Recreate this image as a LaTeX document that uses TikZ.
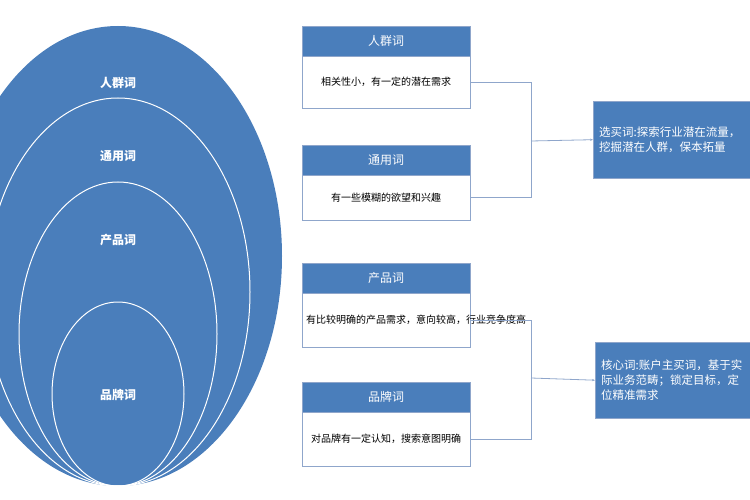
\documentclass[tikz,border=0pt]{standalone}
\usepackage{fontspec}
\setmainfont{Noto Sans CJK SC}
\usetikzlibrary{arrows.meta}
\definecolor{bl}{HTML}{4A7EBB}
\definecolor{bd}{HTML}{8FA6CB}
\begin{document}
\begin{tikzpicture}[x=1pt,y=-1pt,
 hd/.style={draw=bd,fill=bl,text=white,minimum width=168pt,minimum height=30pt,inner sep=0pt,font=\fontsize{12}{14}\selectfont,anchor=north west},
 bx/.style={draw=bd,fill=white,text width=160pt,align=center,minimum width=168pt,inner sep=4pt,font=\fontsize{10}{13}\selectfont,anchor=north west},
 lab/.style={text=white,font=\bfseries\fontsize{12}{14}\selectfont},
 rb/.style={fill=bl,draw=bd,text=white,anchor=north west,text width=180pt,align=left,inner sep=6pt,font=\fontsize{11.5}{15}\selectfont},
 ln/.style={draw=bd,line width=0.8pt},
 ar/.style={ln,-{Stealth[length=3pt]}}]
\useasboundingbox (0,0) rectangle (750,500);
\clip (0,0) rectangle (750,500);
\fill[bl] (118,256) ellipse [x radius=164,y radius=230];
\draw[white,line width=1pt] (118,292) ellipse [x radius=132,y radius=194];
\draw[white,line width=1pt] (118,334) ellipse [x radius=99,y radius=152];
\draw[white,line width=1pt] (118,394) ellipse [x radius=66,y radius=92];
\node[lab] (l1) at (118,83) {人群词};
\node[lab] (l2) at (118,156) {通用词};
\node[lab] (l3) at (118,240) {产品词};
\node[lab] (l4) at (118,395) {品牌词};

\node[hd] (h1) at (302,26) {人群词};
\node[bx,minimum height=52pt] (b1) at (302,56) {相关性小，有一定的潜在需求};
\node[hd] (h2) at (302,145) {通用词};
\node[bx,minimum height=45pt] (b2) at (302,175) {有一些模糊的欲望和兴趣};
\node[hd] (h3) at (302,263) {产品词};
\node[bx,minimum height=54pt] (b3) at (302,293) {有比较明确的产品需求，意向较高，行业竞争度高};
\node[hd] (h4) at (302,382) {品牌词};
\node[bx,minimum height=54pt] (b4) at (302,412) {对品牌有一定认知，搜索意图明确};

\node[rb,minimum height=77pt] (r1) at (593,101) {选买词:探索行业潜在流量，\\挖掘潜在人群，保本拓量};
\node[rb,minimum height=76pt] (r2) at (595,342) {核心词:账户主买词，基于实\\际业务范畴；锁定目标，定\\位精准需求};

\coordinate (j1) at (531,141);
\coordinate (j2) at (531,378);
\draw[ln] (b1.east) -- (b1.east -| j1) -- (b2.east -| j1) -- (b2.east);
\draw[ar] (j1) -- (r1.west);
\draw[ln] (b3.east) -- (b3.east -| j2) -- (b4.east -| j2) -- (b4.east);
\draw[ar] (j2) -- (r2.west);
\end{tikzpicture}
\end{document}
